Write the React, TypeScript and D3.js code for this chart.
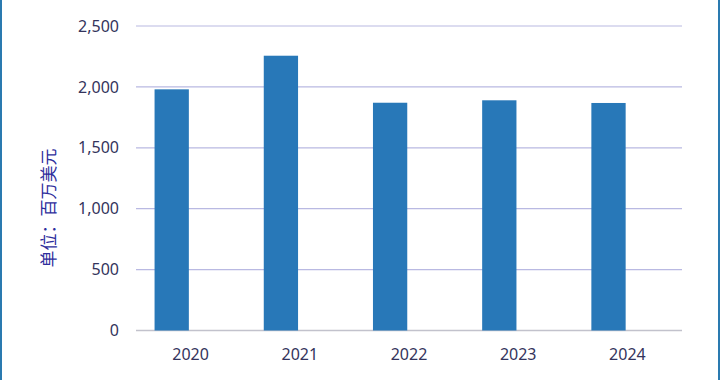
import React from "react";
import * as d3 from "d3";

const years = ["2020", "2021", "2022", "2023", "2024"];
const values = [1980, 2256, 1870, 1890, 1868];
const yTicks = [0, 500, 1000, 1500, 2000, 2500];
const yTitle = "单位：百万美元";

export default function App() {
  const W = 720, H = 380;
  const x = d3.scaleBand<string>().domain(years).range([136, 682]).padding(0);
  const y = d3.scaleLinear().domain([0, 2500]).range([330.5, 26]);
  const bw = x.bandwidth();
  const fmt = d3.format(",");
  const font = "'Noto Sans', 'Open Sans', sans-serif";
  return (
    <div style={{ position: "absolute", left: 0, top: 0 }}>
      <svg width={W} height={H} style={{ display: "block", background: "#fff" }}>
        <rect x={0} y={0} width={2} height={H} fill="#2a7ab0" />
        <rect x={718} y={0} width={2} height={H} fill="#2a7ab0" />
        {yTicks.map((t) => (
          <g key={t}>
            <line
              x1={136}
              x2={682}
              y1={y(t)}
              y2={y(t)}
              stroke={t === 0 ? "#c2c2cc" : "#b9b9e2"}
              strokeWidth={t === 0 ? 1.5 : 1.2}
            />
            <text
              x={119}
              y={y(t)}
              dy="0.35em"
              textAnchor="end"
              fontFamily={font}
              fontSize={16}
              fill="#34345c"
            >
              {fmt(t)}
            </text>
          </g>
        ))}
        {years.map((yr, i) => (
          <rect
            key={yr}
            x={(x(yr) as number) + bw * 0.17}
            y={y(values[i])}
            width={bw * 0.314}
            height={y(0) - y(values[i])}
            fill="#2878b8"
          />
        ))}
        {years.map((yr) => (
          <text
            key={yr}
            x={(x(yr) as number) + bw / 2}
            y={360}
            textAnchor="middle"
            fontFamily={font}
            fontSize={16}
            fill="#34345c"
          >
            {yr}
          </text>
        ))}
        <text
          transform="translate(49,208) rotate(-90)"
          textAnchor="middle"
          dy="0.35em"
          fontFamily="'Noto Sans CJK SC', sans-serif"
          fontSize={17}
          fill="#2e2e9c"
        >
          {yTitle}
        </text>
      </svg>
    </div>
  );
}
